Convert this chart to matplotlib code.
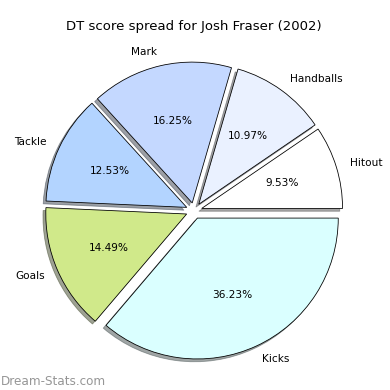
import matplotlib
matplotlib.use("Agg")
import matplotlib.pyplot as plt

labels = ["Hitout", "Handballs", "Mark", "Tackle", "Goals", "Kicks"]
shares = [9.53, 10.97, 16.25, 12.53, 14.49, 36.23]
colors = ["#ffffff", "#eaf1ff", "#c4d8ff", "#b3d4ff", "#d0e98a", "#daffff"]

fig = plt.figure(figsize=(390 / 72, 390 / 72), dpi=72)
ax = fig.add_axes([0.046, 0.008, 0.903, 0.903])

wedges, texts, autotexts = ax.pie(
    shares, labels=labels, colors=colors, autopct="%.2f%%",
    explode=[0.057] * len(shares), shadow=True, startangle=0,
    wedgeprops={"edgecolor": "black", "linewidth": 0.8},
    textprops={"fontsize": 10.5},
)

ax.set_title("DT score spread for Josh Fraser (2002)", fontsize=13.2, pad=5)

#watermark in the lower left corner
fig.text(0.003, 0.012, "Dream-Stats.com", fontsize=12, color="#969696")

fig.savefig("out.png", dpi=72)
